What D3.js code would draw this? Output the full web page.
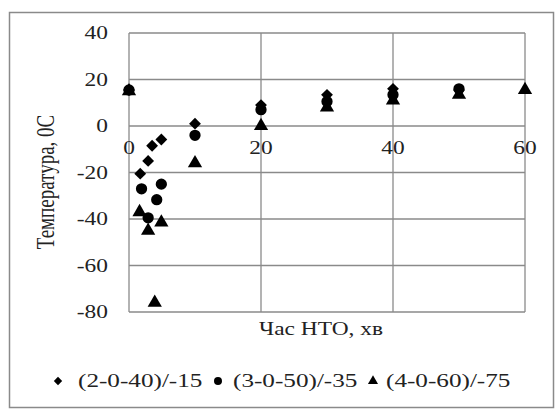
<!DOCTYPE html>
<html>
<head>
<meta charset="utf-8">
<script src="https://cdn.jsdelivr.net/npm/d3@7"></script>
<style>
  body { margin: 0; background: #fff; }
</style>
</head>
<body>
<svg width="555" height="409"></svg>
<script>
// series
const seriesNames = ["(2-0-40)/-15", "(3-0-50)/-35", "(4-0-60)/-75"];
const s1X = [0, 1.7, 2.9, 3.5, 4.9, 10, 20, 30, 40, 50];
const s1Y = [15.5, -20.5, -15, -8.5, -5.8, 1, 9, 13.4, 16, 15.5];
const s2X = [0, 1.9, 2.9, 4.2, 4.9, 10, 20, 30, 40, 50];
const s2Y = [15.5, -27, -39.5, -31.7, -25, -4, 7, 10.5, 13.4, 16];
const s3X = [0, 1.6, 2.9, 3.9, 4.9, 10, 20, 30, 40, 50, 60];
const s3Y = [15, -37, -45, -76, -41.5, -16, 0, 8, 11, 13.5, 15.5];
const xTicks = [0, 20, 40, 60];
const yTicks = [-80, -60, -40, -20, 0, 20, 40];
const xTitle = "Час НТО, хв";
const yTitle = "Температура, 0С";

const svg = d3.select("svg"),
    margin = { top: 33, right: 30, bottom: 97, left: 129 },
    width = +svg.attr("width") - margin.left - margin.right,
    height = +svg.attr("height") - margin.top - margin.bottom;

const font = "'Liberation Serif', 'DejaVu Serif', serif";
const stretch = 1.3;   // the picture is wider than tall text would be

svg.attr("font-family", font).attr("fill", "#222");

// outer frame
svg.append("rect")
    .attr("x", 9.5).attr("y", 12.5)
    .attr("width", 544).attr("height", 395)
    .attr("fill", "none")
    .attr("stroke", "#8a8a8a")
    .attr("stroke-width", 1.5);

const chart = svg.append("g")
    .attr("transform", `translate(${margin.left},${margin.top})`);

const x = d3.scaleLinear().domain([0, 60]).range([0, width]);
const y = d3.scaleLinear().domain([-80, 40]).range([height, 0]);

// grid
chart.append("g")
    .selectAll("line")
    .data(yTicks)
    .join("line")
    .attr("x1", 0).attr("x2", width)
    .attr("y1", d => y(d)).attr("y2", d => y(d))
    .attr("stroke", "#8a8a8a").attr("stroke-width", 1.3);

chart.append("g")
    .selectAll("line")
    .data(xTicks)
    .join("line")
    .attr("x1", d => x(d)).attr("x2", d => x(d))
    .attr("y1", 0).attr("y2", height)
    .attr("stroke", "#8a8a8a").attr("stroke-width", 1.3);

// y tick labels
chart.append("g")
    .selectAll("text")
    .data(yTicks)
    .join("text")
    .attr("transform", d => `translate(-21,${y(d)}) scale(${stretch},1)`)
    .attr("dy", "0.35em")
    .attr("text-anchor", "end")
    .attr("font-family", font)
    .style("font-size", "18px")
    .text(d => d);

// x tick labels, sitting under the zero line
chart.append("g")
    .selectAll("text")
    .data(xTicks)
    .join("text")
    .attr("transform", d => `translate(${x(d)},${y(0) + 22}) scale(${stretch},1)`)
    .attr("dy", "0.35em")
    .attr("text-anchor", "middle")
    .attr("font-family", font)
    .style("font-size", "18px")
    .text(d => d);

// markers
const shapes = [
    { type: d3.symbolSquare, size: 70, rot: 45 },
    { type: d3.symbolCircle, size: 100, rot: 0 },
    { type: d3.symbolTriangle, size: 88, rot: 0 }
];
const seriesData = [
    s1X.map((v, i) => [v, s1Y[i]]),
    s2X.map((v, i) => [v, s2Y[i]]),
    s3X.map((v, i) => [v, s3Y[i]])
];

seriesData.forEach((pts, k) => {
    chart.append("g")
        .selectAll("path")
        .data(pts)
        .join("path")
        .attr("d", d3.symbol().type(shapes[k].type).size(shapes[k].size))
        .attr("transform", d => `translate(${x(d[0])},${y(d[1])}) rotate(${shapes[k].rot})`)
        .attr("fill", "#000");
});

// axis titles
svg.append("text")
    .attr("transform", `translate(321,329) scale(${stretch},1)`)
    .attr("dy", "0.35em")
    .attr("text-anchor", "middle")
    .attr("font-family", font)
    .style("font-size", "18px")
    .text(xTitle);

svg.append("text")
    .attr("transform", `translate(45,182) rotate(-90) scale(1,${stretch})`)
    .attr("dy", "0.35em")
    .attr("text-anchor", "middle")
    .attr("font-family", font)
    .style("font-size", "19px")
    .text(yTitle);

// legend
const legendMarkX = [58, 218, 373];
const legendTextX = [78, 233, 386];
const legend = svg.append("g");
seriesNames.forEach((name, k) => {
    legend.append("path")
        .attr("d", d3.symbol().type(shapes[k].type).size(shapes[k].size * 0.5))
        .attr("transform", `translate(${legendMarkX[k]},381) rotate(${shapes[k].rot})`)
        .attr("fill", "#000");
    legend.append("text")
        .attr("transform", `translate(${legendTextX[k]},381) scale(1.4,1)`)
        .attr("dy", "0.35em")
        .attr("font-family", font)
        .style("font-size", "18px")
        .text(name);
});
</script>
</body>
</html>
